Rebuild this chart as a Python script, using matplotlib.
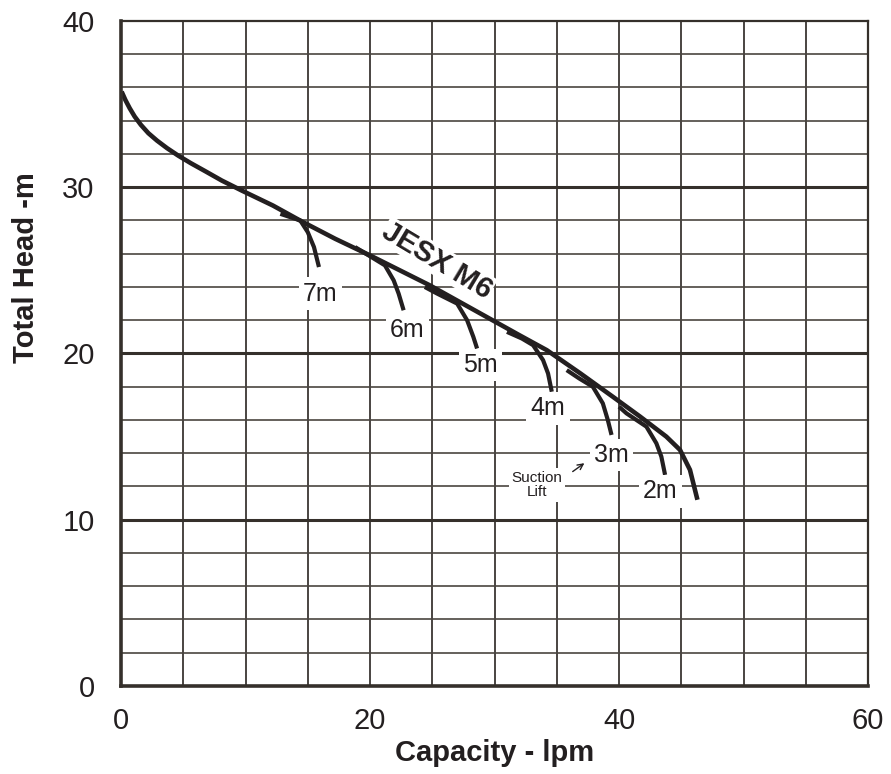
import numpy as np
import matplotlib
matplotlib.use("Agg")
import matplotlib.pyplot as plt

plt.rcParams['font.family'] = ['Liberation Sans', 'DejaVu Sans']

ink = "#231f20"

# Hauptkurve JESX M6 (Kapazität lpm, Förderhöhe m)
main_x = [0.05, 0.35, 0.7, 1.1, 1.6, 2.2, 2.9, 3.7, 4.6, 5.6, 6.8, 8.1, 9.7, 12.2, 14.5,
          17.2, 20.0, 22.4, 24.8, 27.2, 29.6, 32.0, 34.2, 36.9, 39.5, 41.7, 43.8, 44.9, 45.7, 46.3]
main_y = [35.75, 35.25, 34.75, 34.25, 33.75, 33.25, 32.8, 32.35, 31.9, 31.45, 30.95, 30.4, 29.8,
          28.9, 27.95, 26.9, 25.9, 25.0, 24.1, 23.1, 22.1, 21.1, 20.2, 18.8, 17.4, 16.2, 15.0,
          14.2, 13.0, 11.2]

# Saughöhen-Äste
lift_names = ["7m", "6m", "5m", "4m", "3m", "2m"]
lift_x = [[12.8, 14.4, 15.0, 15.5, 15.9],
          [18.8, 20.0, 21.2, 21.9, 22.3, 22.7],
          [24.4, 25.4, 27.0, 27.8, 28.3, 28.6],
          [31.0, 32.2, 33.1, 33.9, 34.3, 34.6],
          [35.8, 36.8, 37.9, 38.7, 39.1, 39.4],
          [40.0, 40.6, 42.2, 43.0, 43.4, 43.7]]
lift_y = [[28.4, 28.0, 27.3, 26.4, 25.2],
          [26.4, 25.85, 25.3, 24.4, 23.6, 22.6],
          [24.0, 23.6, 23.0, 22.0, 21.0, 20.3],
          [21.3, 20.9, 20.5, 19.6, 18.8, 17.7],
          [19.0, 18.5, 18.0, 17.0, 16.0, 15.1],
          [16.8, 16.4, 15.6, 14.6, 13.8, 12.7]]
label_x = [16.0, 23.0, 28.9, 34.3, 39.4, 43.3]
label_y = [23.6, 21.4, 19.3, 16.7, 13.9, 11.7]

fig = plt.figure(figsize=(8.91, 7.74), dpi=100)
ax = fig.add_axes([0.1358, 0.1137, 0.8384, 0.8592])

# Gitter selbst zeichnen
for gx in np.arange(5, 60, 5):
    ax.axvline(gx, color="#3a3633", lw=1.3, zorder=1)
for gy in np.arange(2, 40, 2):
    if gy % 10 == 0:
        ax.axhline(gy, color="#35302b", lw=2.2, zorder=1)
    else:
        ax.axhline(gy, color="#4a4640", lw=1.2, zorder=1)

ax.plot(main_x, main_y, color=ink, lw=3.3, solid_capstyle="butt",
        solid_joinstyle="round", zorder=3)
for xs, ys in zip(lift_x, lift_y):
    ax.plot(xs, ys, color=ink, lw=3.0, solid_capstyle="butt",
            solid_joinstyle="round", zorder=3)

for name, lx, ly in zip(lift_names, label_x, label_y):
    ax.text(lx, ly, name, fontsize=18, color=ink, ha="center", va="center", zorder=4,
            bbox=dict(facecolor="white", edgecolor="none", pad=3))

ax.text(25.4, 25.6, "JESX M6", fontsize=21, fontweight="bold", color=ink, rotation=-31,
        ha="center", va="center", rotation_mode="anchor", zorder=4,
        bbox=dict(facecolor="white", edgecolor="none", pad=0.5))

ax.text(33.4, 12.1, "Suction\nLift", fontsize=11, color=ink, ha="center", va="center",
        linespacing=1.05, zorder=4, bbox=dict(facecolor="white", edgecolor="none", pad=2))
ax.annotate("", xy=(37.4, 13.5), xytext=(36.1, 12.8),
            arrowprops=dict(arrowstyle="->", color=ink, lw=1.0), zorder=4)

ax.set_xlim(0, 60)
ax.set_ylim(0, 40)
ax.set_xticks([0, 20, 40, 60])
ax.set_yticks([0, 10, 20, 30, 40])
ax.tick_params(length=0, labelsize=21, colors=ink)
ax.tick_params(axis="x", pad=15)
ax.tick_params(axis="y", pad=19)

for s in ["left", "bottom"]:
    ax.spines[s].set_linewidth(2.6)
for s in ["top", "right"]:
    ax.spines[s].set_linewidth(1.6)
for s in ax.spines.values():
    s.set_color("#35302b")
    s.set_zorder(5)

fig.text(495 / 891, 1 - 753 / 774, "Capacity - lpm", fontsize=21, fontweight="bold",
         color=ink, ha="center", va="center")
fig.text(26 / 891, 1 - 268 / 774, "Total Head -m", fontsize=21, fontweight="bold",
         color=ink, ha="center", va="center", rotation=90)

fig.savefig("out.png", dpi=100)
